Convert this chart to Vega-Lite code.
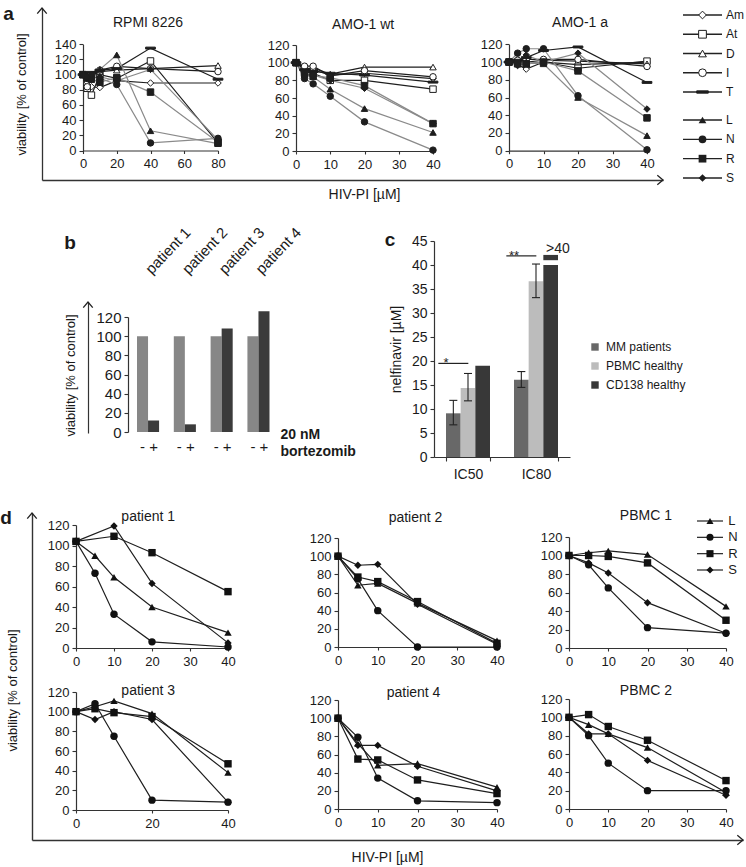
{
"$schema": "https://vega.github.io/schema/vega-lite/v6.json",
"width": 746, "height": 867,
"autosize": {"type": "none"},
"padding": 0,
"background": "white",
"config": {
  "font": "Liberation Sans",
  "view": {"stroke": null},
  "text": {"color": "#1a1a1a"},
  "axis": {"grid": false, "domainColor": "#333333", "tickColor": "#333333", "labelColor": "#1a1a1a", "titleColor": "#1a1a1a", "titleFontWeight": "normal", "labelFontSize": 13, "titleFontSize": 13, "tickSize": 4, "labelPadding": 3, "domainWidth": 1.2, "tickWidth": 1.1, "labelFlush": false, "labelOverlap": false},
  "legend": {"labelColor": "#1a1a1a"}
},
"datasets": {
  "a": [
    {"panel":"RPMI","drug":"Am","conc":0,"v":100},{"panel":"RPMI","drug":"Am","conc":2.5,"v":90},{"panel":"RPMI","drug":"Am","conc":5,"v":84},{"panel":"RPMI","drug":"Am","conc":10,"v":83},{"panel":"RPMI","drug":"Am","conc":20,"v":92},{"panel":"RPMI","drug":"Am","conc":40,"v":89},{"panel":"RPMI","drug":"Am","conc":80,"v":89},
    {"panel":"RPMI","drug":"At","conc":0,"v":100},{"panel":"RPMI","drug":"At","conc":2.5,"v":82},{"panel":"RPMI","drug":"At","conc":5,"v":73},{"panel":"RPMI","drug":"At","conc":10,"v":100},{"panel":"RPMI","drug":"At","conc":20,"v":95},{"panel":"RPMI","drug":"At","conc":40,"v":118},{"panel":"RPMI","drug":"At","conc":80,"v":10},
    {"panel":"RPMI","drug":"D","conc":0,"v":100},{"panel":"RPMI","drug":"D","conc":2.5,"v":96},{"panel":"RPMI","drug":"D","conc":5,"v":100},{"panel":"RPMI","drug":"D","conc":10,"v":104},{"panel":"RPMI","drug":"D","conc":20,"v":106},{"panel":"RPMI","drug":"D","conc":40,"v":108},{"panel":"RPMI","drug":"D","conc":80,"v":112},
    {"panel":"RPMI","drug":"I","conc":0,"v":100},{"panel":"RPMI","drug":"I","conc":2.5,"v":84},{"panel":"RPMI","drug":"I","conc":5,"v":96},{"panel":"RPMI","drug":"I","conc":10,"v":106},{"panel":"RPMI","drug":"I","conc":20,"v":111},{"panel":"RPMI","drug":"I","conc":40,"v":108},{"panel":"RPMI","drug":"I","conc":80,"v":104},
    {"panel":"RPMI","drug":"T","conc":0,"v":100},{"panel":"RPMI","drug":"T","conc":2.5,"v":98},{"panel":"RPMI","drug":"T","conc":5,"v":103},{"panel":"RPMI","drug":"T","conc":10,"v":106},{"panel":"RPMI","drug":"T","conc":20,"v":108},{"panel":"RPMI","drug":"T","conc":40,"v":135},{"panel":"RPMI","drug":"T","conc":80,"v":94},
    {"panel":"RPMI","drug":"L","conc":0,"v":100},{"panel":"RPMI","drug":"L","conc":2.5,"v":98},{"panel":"RPMI","drug":"L","conc":5,"v":100},{"panel":"RPMI","drug":"L","conc":10,"v":107},{"panel":"RPMI","drug":"L","conc":20,"v":126},{"panel":"RPMI","drug":"L","conc":40,"v":26},{"panel":"RPMI","drug":"L","conc":80,"v":9},
    {"panel":"RPMI","drug":"N","conc":0,"v":100},{"panel":"RPMI","drug":"N","conc":2.5,"v":95},{"panel":"RPMI","drug":"N","conc":5,"v":97},{"panel":"RPMI","drug":"N","conc":10,"v":95},{"panel":"RPMI","drug":"N","conc":20,"v":87},{"panel":"RPMI","drug":"N","conc":40,"v":10},{"panel":"RPMI","drug":"N","conc":80,"v":16},
    {"panel":"RPMI","drug":"R","conc":0,"v":100},{"panel":"RPMI","drug":"R","conc":2.5,"v":96},{"panel":"RPMI","drug":"R","conc":5,"v":94},{"panel":"RPMI","drug":"R","conc":10,"v":90},{"panel":"RPMI","drug":"R","conc":20,"v":96},{"panel":"RPMI","drug":"R","conc":40,"v":77},{"panel":"RPMI","drug":"R","conc":80,"v":11},
    {"panel":"RPMI","drug":"S","conc":0,"v":100},{"panel":"RPMI","drug":"S","conc":2.5,"v":97},{"panel":"RPMI","drug":"S","conc":5,"v":100},{"panel":"RPMI","drug":"S","conc":10,"v":97},{"panel":"RPMI","drug":"S","conc":20,"v":92},{"panel":"RPMI","drug":"S","conc":40,"v":107},{"panel":"RPMI","drug":"S","conc":80,"v":14},
    {"panel":"wt","drug":"Am","conc":0,"v":100},{"panel":"wt","drug":"Am","conc":2.5,"v":94},{"panel":"wt","drug":"Am","conc":5,"v":92},{"panel":"wt","drug":"Am","conc":10,"v":86},{"panel":"wt","drug":"Am","conc":20,"v":88},{"panel":"wt","drug":"Am","conc":40,"v":82},
    {"panel":"wt","drug":"At","conc":0,"v":100},{"panel":"wt","drug":"At","conc":2.5,"v":90},{"panel":"wt","drug":"At","conc":5,"v":88},{"panel":"wt","drug":"At","conc":10,"v":80},{"panel":"wt","drug":"At","conc":20,"v":80},{"panel":"wt","drug":"At","conc":40,"v":70},
    {"panel":"wt","drug":"D","conc":0,"v":100},{"panel":"wt","drug":"D","conc":2.5,"v":93},{"panel":"wt","drug":"D","conc":5,"v":94},{"panel":"wt","drug":"D","conc":10,"v":87},{"panel":"wt","drug":"D","conc":20,"v":95},{"panel":"wt","drug":"D","conc":40,"v":95},
    {"panel":"wt","drug":"I","conc":0,"v":100},{"panel":"wt","drug":"I","conc":2.5,"v":96},{"panel":"wt","drug":"I","conc":5,"v":96},{"panel":"wt","drug":"I","conc":10,"v":85},{"panel":"wt","drug":"I","conc":20,"v":91},{"panel":"wt","drug":"I","conc":40,"v":84},
    {"panel":"wt","drug":"T","conc":0,"v":100},{"panel":"wt","drug":"T","conc":2.5,"v":92},{"panel":"wt","drug":"T","conc":5,"v":90},{"panel":"wt","drug":"T","conc":10,"v":88},{"panel":"wt","drug":"T","conc":20,"v":86},{"panel":"wt","drug":"T","conc":40,"v":78},
    {"panel":"wt","drug":"L","conc":0,"v":100},{"panel":"wt","drug":"L","conc":2.5,"v":86},{"panel":"wt","drug":"L","conc":5,"v":84},{"panel":"wt","drug":"L","conc":10,"v":70},{"panel":"wt","drug":"L","conc":20,"v":48},{"panel":"wt","drug":"L","conc":40,"v":21},
    {"panel":"wt","drug":"N","conc":0,"v":100},{"panel":"wt","drug":"N","conc":2.5,"v":82},{"panel":"wt","drug":"N","conc":5,"v":76},{"panel":"wt","drug":"N","conc":10,"v":62},{"panel":"wt","drug":"N","conc":20,"v":33},{"panel":"wt","drug":"N","conc":40,"v":1},
    {"panel":"wt","drug":"R","conc":0,"v":100},{"panel":"wt","drug":"R","conc":2.5,"v":88},{"panel":"wt","drug":"R","conc":5,"v":85},{"panel":"wt","drug":"R","conc":10,"v":83},{"panel":"wt","drug":"R","conc":20,"v":74},{"panel":"wt","drug":"R","conc":40,"v":31},
    {"panel":"wt","drug":"S","conc":0,"v":100},{"panel":"wt","drug":"S","conc":2.5,"v":85},{"panel":"wt","drug":"S","conc":5,"v":86},{"panel":"wt","drug":"S","conc":10,"v":80},{"panel":"wt","drug":"S","conc":20,"v":71},{"panel":"wt","drug":"S","conc":40,"v":31},
    {"panel":"a1","drug":"Am","conc":0,"v":100},{"panel":"a1","drug":"Am","conc":2.5,"v":97},{"panel":"a1","drug":"Am","conc":5,"v":92},{"panel":"a1","drug":"Am","conc":10,"v":100},{"panel":"a1","drug":"Am","conc":20,"v":97},{"panel":"a1","drug":"Am","conc":40,"v":100},
    {"panel":"a1","drug":"At","conc":0,"v":100},{"panel":"a1","drug":"At","conc":2.5,"v":100},{"panel":"a1","drug":"At","conc":5,"v":98},{"panel":"a1","drug":"At","conc":10,"v":100},{"panel":"a1","drug":"At","conc":20,"v":93},{"panel":"a1","drug":"At","conc":40,"v":101},
    {"panel":"a1","drug":"D","conc":0,"v":100},{"panel":"a1","drug":"D","conc":2.5,"v":100},{"panel":"a1","drug":"D","conc":5,"v":100},{"panel":"a1","drug":"D","conc":10,"v":102},{"panel":"a1","drug":"D","conc":20,"v":101},{"panel":"a1","drug":"D","conc":40,"v":98},
    {"panel":"a1","drug":"I","conc":0,"v":100},{"panel":"a1","drug":"I","conc":2.5,"v":102},{"panel":"a1","drug":"I","conc":5,"v":103},{"panel":"a1","drug":"I","conc":10,"v":103},{"panel":"a1","drug":"I","conc":20,"v":103},{"panel":"a1","drug":"I","conc":40,"v":95},
    {"panel":"a1","drug":"T","conc":0,"v":100},{"panel":"a1","drug":"T","conc":2.5,"v":102},{"panel":"a1","drug":"T","conc":5,"v":105},{"panel":"a1","drug":"T","conc":10,"v":113},{"panel":"a1","drug":"T","conc":20,"v":117},{"panel":"a1","drug":"T","conc":40,"v":77},
    {"panel":"a1","drug":"L","conc":0,"v":100},{"panel":"a1","drug":"L","conc":2.5,"v":98},{"panel":"a1","drug":"L","conc":5,"v":100},{"panel":"a1","drug":"L","conc":10,"v":98},{"panel":"a1","drug":"L","conc":20,"v":60},{"panel":"a1","drug":"L","conc":40,"v":17},
    {"panel":"a1","drug":"N","conc":0,"v":100},{"panel":"a1","drug":"N","conc":2.5,"v":110},{"panel":"a1","drug":"N","conc":5,"v":115},{"panel":"a1","drug":"N","conc":10,"v":115},{"panel":"a1","drug":"N","conc":20,"v":62},{"panel":"a1","drug":"N","conc":40,"v":1},
    {"panel":"a1","drug":"R","conc":0,"v":100},{"panel":"a1","drug":"R","conc":2.5,"v":98},{"panel":"a1","drug":"R","conc":5,"v":98},{"panel":"a1","drug":"R","conc":10,"v":100},{"panel":"a1","drug":"R","conc":20,"v":90},{"panel":"a1","drug":"R","conc":40,"v":37},
    {"panel":"a1","drug":"S","conc":0,"v":100},{"panel":"a1","drug":"S","conc":2.5,"v":96},{"panel":"a1","drug":"S","conc":5,"v":108},{"panel":"a1","drug":"S","conc":10,"v":100},{"panel":"a1","drug":"S","conc":20,"v":110},{"panel":"a1","drug":"S","conc":40,"v":47}
  ],
  "d": [
    {"panel":"p1","drug":"L","conc":0,"v":104},{"panel":"p1","drug":"L","conc":5,"v":90},{"panel":"p1","drug":"L","conc":10,"v":69},{"panel":"p1","drug":"L","conc":20,"v":40},{"panel":"p1","drug":"L","conc":40,"v":15},
    {"panel":"p1","drug":"N","conc":0,"v":104},{"panel":"p1","drug":"N","conc":5,"v":73},{"panel":"p1","drug":"N","conc":10,"v":33},{"panel":"p1","drug":"N","conc":20,"v":6},{"panel":"p1","drug":"N","conc":40,"v":1},
    {"panel":"p1","drug":"R","conc":0,"v":104},{"panel":"p1","drug":"R","conc":10,"v":109},{"panel":"p1","drug":"R","conc":20,"v":93},{"panel":"p1","drug":"R","conc":40,"v":55},
    {"panel":"p1","drug":"S","conc":0,"v":104},{"panel":"p1","drug":"S","conc":10,"v":119},{"panel":"p1","drug":"S","conc":20,"v":63},{"panel":"p1","drug":"S","conc":40,"v":5},
    {"panel":"p2","drug":"L","conc":0,"v":100},{"panel":"p2","drug":"L","conc":5,"v":68},{"panel":"p2","drug":"L","conc":10,"v":70},{"panel":"p2","drug":"L","conc":20,"v":48},{"panel":"p2","drug":"L","conc":40,"v":7},
    {"panel":"p2","drug":"N","conc":0,"v":100},{"panel":"p2","drug":"N","conc":5,"v":75},{"panel":"p2","drug":"N","conc":10,"v":40},{"panel":"p2","drug":"N","conc":20,"v":0},{"panel":"p2","drug":"N","conc":40,"v":0},
    {"panel":"p2","drug":"R","conc":0,"v":100},{"panel":"p2","drug":"R","conc":5,"v":77},{"panel":"p2","drug":"R","conc":10,"v":72},{"panel":"p2","drug":"R","conc":20,"v":50},{"panel":"p2","drug":"R","conc":40,"v":4},
    {"panel":"p2","drug":"S","conc":0,"v":100},{"panel":"p2","drug":"S","conc":5,"v":90},{"panel":"p2","drug":"S","conc":10,"v":91},{"panel":"p2","drug":"S","conc":20,"v":47},{"panel":"p2","drug":"S","conc":40,"v":3},
    {"panel":"pb1","drug":"L","conc":0,"v":100},{"panel":"pb1","drug":"L","conc":5,"v":103},{"panel":"pb1","drug":"L","conc":10,"v":105},{"panel":"pb1","drug":"L","conc":20,"v":101},{"panel":"pb1","drug":"L","conc":40,"v":45},
    {"panel":"pb1","drug":"N","conc":0,"v":100},{"panel":"pb1","drug":"N","conc":5,"v":90},{"panel":"pb1","drug":"N","conc":10,"v":65},{"panel":"pb1","drug":"N","conc":20,"v":22},{"panel":"pb1","drug":"N","conc":40,"v":16},
    {"panel":"pb1","drug":"R","conc":0,"v":100},{"panel":"pb1","drug":"R","conc":5,"v":100},{"panel":"pb1","drug":"R","conc":10,"v":99},{"panel":"pb1","drug":"R","conc":20,"v":92},{"panel":"pb1","drug":"R","conc":40,"v":30},
    {"panel":"pb1","drug":"S","conc":0,"v":100},{"panel":"pb1","drug":"S","conc":5,"v":92},{"panel":"pb1","drug":"S","conc":10,"v":81},{"panel":"pb1","drug":"S","conc":20,"v":49},{"panel":"pb1","drug":"S","conc":40,"v":16},
    {"panel":"p3","drug":"L","conc":0,"v":100},{"panel":"p3","drug":"L","conc":5,"v":105},{"panel":"p3","drug":"L","conc":10,"v":111},{"panel":"p3","drug":"L","conc":20,"v":98},{"panel":"p3","drug":"L","conc":40,"v":38},
    {"panel":"p3","drug":"N","conc":0,"v":100},{"panel":"p3","drug":"N","conc":5,"v":108},{"panel":"p3","drug":"N","conc":10,"v":75},{"panel":"p3","drug":"N","conc":20,"v":10},{"panel":"p3","drug":"N","conc":40,"v":8},
    {"panel":"p3","drug":"R","conc":0,"v":100},{"panel":"p3","drug":"R","conc":5,"v":103},{"panel":"p3","drug":"R","conc":10,"v":99},{"panel":"p3","drug":"R","conc":20,"v":95},{"panel":"p3","drug":"R","conc":40,"v":47},
    {"panel":"p3","drug":"S","conc":0,"v":100},{"panel":"p3","drug":"S","conc":5,"v":92},{"panel":"p3","drug":"S","conc":10,"v":100},{"panel":"p3","drug":"S","conc":20,"v":92},{"panel":"p3","drug":"S","conc":40,"v":8},
    {"panel":"p4","drug":"L","conc":0,"v":100},{"panel":"p4","drug":"L","conc":5,"v":72},{"panel":"p4","drug":"L","conc":10,"v":48},{"panel":"p4","drug":"L","conc":20,"v":50},{"panel":"p4","drug":"L","conc":40,"v":24},
    {"panel":"p4","drug":"N","conc":0,"v":100},{"panel":"p4","drug":"N","conc":5,"v":79},{"panel":"p4","drug":"N","conc":10,"v":34},{"panel":"p4","drug":"N","conc":20,"v":9},{"panel":"p4","drug":"N","conc":40,"v":7},
    {"panel":"p4","drug":"R","conc":0,"v":100},{"panel":"p4","drug":"R","conc":5,"v":55},{"panel":"p4","drug":"R","conc":10,"v":54},{"panel":"p4","drug":"R","conc":20,"v":32},{"panel":"p4","drug":"R","conc":40,"v":17},
    {"panel":"p4","drug":"S","conc":0,"v":100},{"panel":"p4","drug":"S","conc":5,"v":70},{"panel":"p4","drug":"S","conc":10,"v":70},{"panel":"p4","drug":"S","conc":20,"v":47},{"panel":"p4","drug":"S","conc":40,"v":20},
    {"panel":"pb2","drug":"L","conc":0,"v":100},{"panel":"pb2","drug":"L","conc":5,"v":92},{"panel":"pb2","drug":"L","conc":10,"v":82},{"panel":"pb2","drug":"L","conc":20,"v":67},{"panel":"pb2","drug":"L","conc":40,"v":18},
    {"panel":"pb2","drug":"N","conc":0,"v":100},{"panel":"pb2","drug":"N","conc":5,"v":80},{"panel":"pb2","drug":"N","conc":10,"v":50},{"panel":"pb2","drug":"N","conc":20,"v":20},{"panel":"pb2","drug":"N","conc":40,"v":20},
    {"panel":"pb2","drug":"R","conc":0,"v":100},{"panel":"pb2","drug":"R","conc":5,"v":103},{"panel":"pb2","drug":"R","conc":10,"v":90},{"panel":"pb2","drug":"R","conc":20,"v":75},{"panel":"pb2","drug":"R","conc":40,"v":31},
    {"panel":"pb2","drug":"S","conc":0,"v":100},{"panel":"pb2","drug":"S","conc":5,"v":82},{"panel":"pb2","drug":"S","conc":10,"v":82},{"panel":"pb2","drug":"S","conc":20,"v":53},{"panel":"pb2","drug":"S","conc":40,"v":15}
  ],
  "b": [
    {"patient":"patient 1","treatment":"-","v":100},{"patient":"patient 1","treatment":"+","v":12},
    {"patient":"patient 2","treatment":"-","v":100},{"patient":"patient 2","treatment":"+","v":8},
    {"patient":"patient 3","treatment":"-","v":100},{"patient":"patient 3","treatment":"+","v":108},
    {"patient":"patient 4","treatment":"-","v":100},{"patient":"patient 4","treatment":"+","v":126}
  ],
  "c": [
    {"stat":"IC50","group":"MM patients","v":9.1,"lo":6.7,"hi":11.8},
    {"stat":"IC50","group":"PBMC healthy","v":14.4,"lo":11.7,"hi":17.4},
    {"stat":"IC50","group":"CD138 healthy","v":19},
    {"stat":"IC80","group":"MM patients","v":16.1,"lo":14.5,"hi":17.8},
    {"stat":"IC80","group":"PBMC healthy","v":36.6,"lo":33.2,"hi":40.2},
    {"stat":"IC80","group":"CD138 healthy","v":40}
  ],
  "cann": [
    {"stat":"IC50","group":"MM patients","kind":"sig","level":19.5,"label":"*"},
    {"stat":"IC80","group":"MM patients","kind":"sig","level":41.9,"label":"**"},
    {"stat":"IC80","group":"CD138 healthy","kind":"gt","level":41,"level2":42.1,"label":">40"}
  ],
  "lega1": [{"drug":"Am"},{"drug":"At"},{"drug":"D"},{"drug":"I"},{"drug":"T"}],
  "lega2": [{"drug":"L"},{"drug":"N"},{"drug":"R"},{"drug":"S"}]
},
"layer": [
  {"data": {"values": [{"label": "a"}]},
   "mark": {"type": "point", "shape": "M-1,1.2L0,0L1,1.2", "size": 90, "filled": false, "strokeWidth": 1.3, "color": "#222222", "opacity": 1},
   "encoding": {
     "x": {"datum": 0, "type": "quantitative", "scale": {"domain": [0, 1], "range": [42, 663], "nice": false, "zero": false}, "axis": {"orient": "bottom", "offset": -687, "ticks": false, "labels": false, "title": "HIV-PI [µM]", "titleFontSize": 14, "titlePadding": 7, "titleX": 364, "domainWidth": 1.3}},
     "y": {"datum": 1, "type": "quantitative", "scale": {"domain": [0, 1], "range": [180, 8], "nice": false, "zero": false}, "axis": {"orient": "left", "offset": -42, "ticks": false, "labels": false, "title": "viability [% of control]", "titleFontSize": 13, "titlePadding": 14, "domainWidth": 1.3}}
   }},
  {"data": {"values": [{"label": "a"}]},
   "mark": {"type": "point", "shape": "M-1.2,-1L0,0L-1.2,1", "size": 90, "filled": false, "strokeWidth": 1.3, "color": "#222222", "opacity": 1},
   "encoding": {
     "x": {"datum": 1, "type": "quantitative", "scale": {"domain": [0, 1], "range": [42, 663], "nice": false, "zero": false}, "axis": null},
     "y": {"datum": 0, "type": "quantitative", "scale": {"domain": [0, 1], "range": [180, 8], "nice": false, "zero": false}, "axis": null}
   }},
  {"data": {"values": [{"label": "a"}]},
   "mark": {"type": "text", "fontSize": 19, "fontWeight": "bold", "baseline": "middle"},
   "encoding": {
     "text": {"field": "label"},
     "x": {"datum": -0.054, "type": "quantitative", "scale": {"domain": [0, 1], "range": [42, 663], "nice": false, "zero": false}, "axis": null},
     "y": {"datum": 0.968, "type": "quantitative", "scale": {"domain": [0, 1], "range": [180, 8], "nice": false, "zero": false}, "axis": null}
   }},

  {"data": {"name": "a"}, "transform": [{"filter": "datum.panel === 'RPMI'"}],
   "mark": {"type": "line", "strokeWidth": 1.2},
   "encoding": {
     "x": {"field": "conc", "type": "quantitative", "scale": {"domain": [0, 80], "range": [83, 218], "nice": false, "zero": false}, "axis": {"orient": "bottom", "offset": -716.5, "values": [0, 20, 40, 60, 80], "title": null, "tickSize": 3, "labelPadding": 4}},
     "y": {"field": "v", "type": "quantitative", "scale": {"domain": [0, 140], "range": [150.5, 44.3], "nice": false, "zero": false}, "axis": {"orient": "left", "offset": -83, "values": [0, 20, 40, 60, 80, 100, 120, 140], "title": null}},
     "detail": {"field": "drug", "type": "nominal"},
     "stroke": {"condition": {"test": "indexof(['L','N','R','S'], datum.drug) >= 0", "value": "#8a8a8a"}, "value": "#1e1e1e"}}},
  {"data": {"name": "a"}, "transform": [{"filter": "datum.panel === 'RPMI'"}],
   "mark": {"type": "point", "filled": true, "size": 42, "stroke": "#1e1e1e", "strokeWidth": 1, "opacity": 1},
   "encoding": {
     "x": {"field": "conc", "type": "quantitative", "scale": {"domain": [0, 80], "range": [83, 218], "nice": false, "zero": false}, "axis": null},
     "y": {"field": "v", "type": "quantitative", "scale": {"domain": [0, 140], "range": [150.5, 44.3], "nice": false, "zero": false}, "axis": null},
     "shape": {"field": "drug", "type": "nominal", "scale": {"domain": ["Am","At","D","I","T","L","N","R","S"], "range": ["diamond","square","triangle-up","circle","M-1.5,-0.3L1.5,-0.3L1.5,0.3L-1.5,0.3Z","triangle-up","circle","square","diamond"]}, "legend": null},
     "fill": {"field": "drug", "type": "nominal", "scale": {"domain": ["Am","At","D","I","T","L","N","R","S"], "range": ["white","white","white","white","#1e1e1e","#1e1e1e","#1e1e1e","#1e1e1e","#1e1e1e"]}, "legend": null}
   }},
  {"data": {"values": [{"t": "RPMI 8226"}]},
   "mark": {"type": "text", "fontSize": 14, "baseline": "middle"},
   "encoding": {
     "text": {"field": "t"},
     "x": {"datum": 38.5, "type": "quantitative", "scale": {"domain": [0, 80], "range": [83, 218], "nice": false, "zero": false}, "axis": null},
     "y": {"datum": 168, "type": "quantitative", "scale": {"domain": [0, 140], "range": [150.5, 44.3], "nice": false, "zero": false}, "axis": null}
   }},

  {"data": {"name": "a"}, "transform": [{"filter": "datum.panel === 'wt'"}],
   "mark": {"type": "line", "strokeWidth": 1.2},
   "encoding": {
     "x": {"field": "conc", "type": "quantitative", "scale": {"domain": [0, 40], "range": [296, 433], "nice": false, "zero": false}, "axis": {"orient": "bottom", "offset": -716, "values": [0, 10, 20, 30, 40], "title": null, "tickSize": 3, "labelPadding": 4}},
     "y": {"field": "v", "type": "quantitative", "scale": {"domain": [0, 120], "range": [151, 45], "nice": false, "zero": false}, "axis": {"orient": "left", "offset": -296, "values": [0, 20, 40, 60, 80, 100, 120], "title": null}},
     "detail": {"field": "drug", "type": "nominal"},
     "stroke": {"condition": {"test": "indexof(['L','N','R','S'], datum.drug) >= 0", "value": "#8a8a8a"}, "value": "#1e1e1e"}}},
  {"data": {"name": "a"}, "transform": [{"filter": "datum.panel === 'wt'"}],
   "mark": {"type": "point", "filled": true, "size": 42, "stroke": "#1e1e1e", "strokeWidth": 1, "opacity": 1},
   "encoding": {
     "x": {"field": "conc", "type": "quantitative", "scale": {"domain": [0, 40], "range": [296, 433], "nice": false, "zero": false}, "axis": null},
     "y": {"field": "v", "type": "quantitative", "scale": {"domain": [0, 120], "range": [151, 45], "nice": false, "zero": false}, "axis": null},
     "shape": {"field": "drug", "type": "nominal", "scale": {"domain": ["Am","At","D","I","T","L","N","R","S"], "range": ["diamond","square","triangle-up","circle","M-1.5,-0.3L1.5,-0.3L1.5,0.3L-1.5,0.3Z","triangle-up","circle","square","diamond"]}, "legend": null},
     "fill": {"field": "drug", "type": "nominal", "scale": {"domain": ["Am","At","D","I","T","L","N","R","S"], "range": ["white","white","white","white","#1e1e1e","#1e1e1e","#1e1e1e","#1e1e1e","#1e1e1e"]}, "legend": null}
   }},
  {"data": {"values": [{"t": "AMO-1 wt"}]},
   "mark": {"type": "text", "fontSize": 14, "baseline": "middle"},
   "encoding": {
     "text": {"field": "t"},
     "x": {"datum": 19.6, "type": "quantitative", "scale": {"domain": [0, 40], "range": [296, 433], "nice": false, "zero": false}, "axis": null},
     "y": {"datum": 142.6, "type": "quantitative", "scale": {"domain": [0, 120], "range": [151, 45], "nice": false, "zero": false}, "axis": null}
   }},

  {"data": {"name": "a"}, "transform": [{"filter": "datum.panel === 'a1'"}],
   "mark": {"type": "line", "strokeWidth": 1.2},
   "encoding": {
     "x": {"field": "conc", "type": "quantitative", "scale": {"domain": [0, 40], "range": [509, 647], "nice": false, "zero": false}, "axis": {"orient": "bottom", "offset": -716.3, "values": [0, 10, 20, 30, 40], "title": null, "tickSize": 3, "labelPadding": 4}},
     "y": {"field": "v", "type": "quantitative", "scale": {"domain": [0, 120], "range": [150.7, 44.3], "nice": false, "zero": false}, "axis": {"orient": "left", "offset": -509, "values": [0, 20, 40, 60, 80, 100, 120], "title": null}},
     "detail": {"field": "drug", "type": "nominal"},
     "stroke": {"condition": {"test": "indexof(['L','N','R','S'], datum.drug) >= 0", "value": "#8a8a8a"}, "value": "#1e1e1e"}}},
  {"data": {"name": "a"}, "transform": [{"filter": "datum.panel === 'a1'"}],
   "mark": {"type": "point", "filled": true, "size": 42, "stroke": "#1e1e1e", "strokeWidth": 1, "opacity": 1},
   "encoding": {
     "x": {"field": "conc", "type": "quantitative", "scale": {"domain": [0, 40], "range": [509, 647], "nice": false, "zero": false}, "axis": null},
     "y": {"field": "v", "type": "quantitative", "scale": {"domain": [0, 120], "range": [150.7, 44.3], "nice": false, "zero": false}, "axis": null},
     "shape": {"field": "drug", "type": "nominal", "scale": {"domain": ["Am","At","D","I","T","L","N","R","S"], "range": ["diamond","square","triangle-up","circle","M-1.5,-0.3L1.5,-0.3L1.5,0.3L-1.5,0.3Z","triangle-up","circle","square","diamond"]}, "legend": null},
     "fill": {"field": "drug", "type": "nominal", "scale": {"domain": ["Am","At","D","I","T","L","N","R","S"], "range": ["white","white","white","white","#1e1e1e","#1e1e1e","#1e1e1e","#1e1e1e","#1e1e1e"]}, "legend": null}
   }},
  {"data": {"values": [{"t": "AMO-1 a"}]},
   "mark": {"type": "text", "fontSize": 14, "baseline": "middle"},
   "encoding": {
     "text": {"field": "t"},
     "x": {"datum": 20.6, "type": "quantitative", "scale": {"domain": [0, 40], "range": [509, 647], "nice": false, "zero": false}, "axis": null},
     "y": {"datum": 144, "type": "quantitative", "scale": {"domain": [0, 120], "range": [150.7, 44.3], "nice": false, "zero": false}, "axis": null}
   }},

  {"data": {"name": "lega1"},
   "mark": {"type": "rule", "color": "#222222", "strokeWidth": 1.3},
   "encoding": {
     "x": {"datum": 0, "type": "quantitative", "scale": {"domain": [0, 1], "range": [683, 722], "nice": false, "zero": false}, "axis": null},
     "x2": {"datum": 1},
     "y": {"field": "drug", "type": "nominal", "scale": {"type": "point", "domain": ["Am","At","D","I","T"], "range": [15, 92], "padding": 0}, "axis": null}
   }},
  {"data": {"name": "lega1"},
   "mark": {"type": "point", "filled": true, "size": 60, "stroke": "#1e1e1e", "strokeWidth": 1, "opacity": 1},
   "encoding": {
     "x": {"datum": 0.5, "type": "quantitative", "scale": {"domain": [0, 1], "range": [683, 722], "nice": false, "zero": false}, "axis": null},
     "y": {"field": "drug", "type": "nominal", "scale": {"type": "point", "domain": ["Am","At","D","I","T"], "range": [15, 92], "padding": 0}, "axis": null},
     "shape": {"field": "drug", "type": "nominal", "scale": {"domain": ["Am","At","D","I","T"], "range": ["diamond","square","triangle-up","circle","M-1.5,-0.3L1.5,-0.3L1.5,0.3L-1.5,0.3Z"]}, "legend": null},
     "fill": {"field": "drug", "type": "nominal", "scale": {"domain": ["Am","At","D","I","T"], "range": ["white","white","white","white","#1e1e1e"]}, "legend": null}
   }},
  {"data": {"name": "lega1"},
   "mark": {"type": "text", "align": "left", "baseline": "middle", "fontSize": 12},
   "encoding": {
     "x": {"datum": 1.1, "type": "quantitative", "scale": {"domain": [0, 1], "range": [683, 722], "nice": false, "zero": false}, "axis": null},
     "y": {"field": "drug", "type": "nominal", "scale": {"type": "point", "domain": ["Am","At","D","I","T"], "range": [15, 92], "padding": 0}, "axis": null},
     "text": {"field": "drug"}
   }},
  {"data": {"name": "lega2"},
   "mark": {"type": "rule", "color": "#222222", "strokeWidth": 1.3},
   "encoding": {
     "x": {"datum": 0, "type": "quantitative", "scale": {"domain": [0, 1], "range": [683, 722], "nice": false, "zero": false}, "axis": null},
     "x2": {"datum": 1},
     "y": {"field": "drug", "type": "nominal", "scale": {"type": "point", "domain": ["L","N","R","S"], "range": [120, 178], "padding": 0}, "axis": null}
   }},
  {"data": {"name": "lega2"},
   "mark": {"type": "point", "filled": true, "size": 60, "color": "#1e1e1e", "opacity": 1},
   "encoding": {
     "x": {"datum": 0.5, "type": "quantitative", "scale": {"domain": [0, 1], "range": [683, 722], "nice": false, "zero": false}, "axis": null},
     "y": {"field": "drug", "type": "nominal", "scale": {"type": "point", "domain": ["L","N","R","S"], "range": [120, 178], "padding": 0}, "axis": null},
     "shape": {"field": "drug", "type": "nominal", "scale": {"domain": ["L","N","R","S"], "range": ["triangle-up","circle","square","diamond"]}, "legend": null}
   }},
  {"data": {"name": "lega2"},
   "mark": {"type": "text", "align": "left", "baseline": "middle", "fontSize": 12},
   "encoding": {
     "x": {"datum": 1.1, "type": "quantitative", "scale": {"domain": [0, 1], "range": [683, 722], "nice": false, "zero": false}, "axis": null},
     "y": {"field": "drug", "type": "nominal", "scale": {"type": "point", "domain": ["L","N","R","S"], "range": [120, 178], "padding": 0}, "axis": null},
     "text": {"field": "drug"}
   }},

  {"data": {"values": [{"label": "b"}]},
   "mark": {"type": "point", "shape": "M-1,1.2L0,0L1,1.2", "size": 90, "filled": false, "strokeWidth": 1.3, "color": "#222222", "opacity": 1},
   "encoding": {
     "x": {"datum": 0, "type": "quantitative", "scale": {"domain": [0, 1], "range": [88, 300], "nice": false, "zero": false}, "axis": null},
     "y": {"datum": 1, "type": "quantitative", "scale": {"domain": [0, 1], "range": [433, 302], "nice": false, "zero": false}, "axis": {"orient": "left", "offset": -88, "ticks": false, "labels": false, "title": "viability [% of control]", "titleFontSize": 13, "titlePadding": 11, "titleY": 375, "domainWidth": 1.2}}
   }},
  {"data": {"values": [{"label": "b"}]},
   "mark": {"type": "text", "fontSize": 19, "fontWeight": "bold", "baseline": "middle"},
   "encoding": {
     "text": {"field": "label"},
     "x": {"datum": -0.085, "type": "quantitative", "scale": {"domain": [0, 1], "range": [88, 300], "nice": false, "zero": false}, "axis": null},
     "y": {"datum": 1.45, "type": "quantitative", "scale": {"domain": [0, 1], "range": [433, 302], "nice": false, "zero": false}, "axis": null}
   }},

  {"data": {"name": "b"},
   "mark": {"type": "bar"},
   "encoding": {
     "x": {"field": "patient", "type": "nominal", "scale": {"type": "band", "domain": ["patient 1","patient 2","patient 3","patient 4"], "range": [127.8, 278.7], "paddingInner": 0.4, "paddingOuter": 0.25}, "axis": {"orient": "top", "offset": -273, "domain": false, "ticks": false, "labelAngle": -46, "labelAlign": "left", "labelBaseline": "middle", "labelFontSize": 15, "labelPadding": 2, "title": null}},
     "xOffset": {"field": "treatment", "type": "nominal", "scale": {"domain": ["-","+"], "paddingInner": 0, "paddingOuter": 0}},
     "y": {"field": "v", "type": "quantitative", "scale": {"domain": [0, 120], "range": [432, 317], "nice": false, "zero": false}, "axis": {"orient": "left", "offset": -128, "values": [0, 20, 40, 60, 80, 100, 120], "title": null, "labelFontSize": 15}},
     "color": {"field": "treatment", "type": "nominal", "scale": {"domain": ["-","+"], "range": ["#878787","#3b3b3b"]}, "legend": null}
   }},
  {"data": {"name": "b"}, "transform": [{"filter": "datum.treatment === '-'"}],
   "mark": {"type": "text", "fontSize": 15, "baseline": "middle", "dx": -5.5, "color": "#1a1a1a"},
   "encoding": {
     "x": {"field": "patient", "type": "nominal", "scale": {"type": "band", "domain": ["patient 1","patient 2","patient 3","patient 4"], "range": [127.8, 278.7], "paddingInner": 0.4, "paddingOuter": 0.25}, "axis": null},
     "y": {"datum": -16, "type": "quantitative", "scale": {"domain": [0, 120], "range": [432, 317], "nice": false, "zero": false}, "axis": null},
     "text": {"field": "treatment"}
   }},
  {"data": {"name": "b"}, "transform": [{"filter": "datum.treatment === '+'"}],
   "mark": {"type": "text", "fontSize": 15, "baseline": "middle", "dx": 5.5, "color": "#1a1a1a"},
   "encoding": {
     "x": {"field": "patient", "type": "nominal", "scale": {"type": "band", "domain": ["patient 1","patient 2","patient 3","patient 4"], "range": [127.8, 278.7], "paddingInner": 0.4, "paddingOuter": 0.25}, "axis": null},
     "y": {"datum": -16, "type": "quantitative", "scale": {"domain": [0, 120], "range": [432, 317], "nice": false, "zero": false}, "axis": null},
     "text": {"field": "treatment"}
   }},
  {"data": {"values": [{"t": "20 nM\nbortezomib"}]},
   "mark": {"type": "text", "align": "left", "baseline": "top", "dx": 22, "fontSize": 14, "fontWeight": "bold", "lineBreak": "\n", "lineHeight": 17, "color": "#1a1a1a"},
   "encoding": {
     "x": {"datum": "patient 4", "type": "nominal", "scale": {"type": "band", "domain": ["patient 1","patient 2","patient 3","patient 4"], "range": [127.8, 278.7], "paddingInner": 0.4, "paddingOuter": 0.25}, "axis": null},
     "y": {"datum": 4, "type": "quantitative", "scale": {"domain": [0, 120], "range": [432, 317], "nice": false, "zero": false}, "axis": null},
     "text": {"field": "t"}
   }},

  {"data": {"name": "c"},
   "mark": {"type": "bar"},
   "encoding": {
     "x": {"field": "stat", "type": "nominal", "scale": {"type": "band", "domain": ["IC50","IC80"], "range": [434, 570], "paddingInner": 0.353, "paddingOuter": 0.1765}, "axis": {"orient": "bottom", "offset": -410, "tickBand": "extent", "title": null, "labelAngle": 0, "labelFontSize": 14, "labelPadding": 6}},
     "xOffset": {"field": "group", "type": "nominal", "scale": {"domain": ["MM patients","PBMC healthy","CD138 healthy"], "paddingInner": 0, "paddingOuter": 0}},
     "y": {"field": "v", "type": "quantitative", "scale": {"domain": [0, 45], "range": [457, 241], "nice": false, "zero": false}, "axis": {"orient": "left", "offset": -434, "values": [0,5,10,15,20,25,30,35,40,45], "title": "nelfinavir [µM]", "titleFontSize": 14, "titlePadding": 8, "labelFontSize": 14}},
     "color": {"field": "group", "type": "nominal", "scale": {"domain": ["MM patients","PBMC healthy","CD138 healthy"], "range": ["#686868","#bcbcbc","#383838"]}, "legend": {"orient": "none", "legendX": 589, "legendY": 341, "title": null, "symbolType": "square", "symbolSize": 55, "symbolStrokeWidth": 0, "labelFontSize": 12, "rowPadding": 7, "labelOffset": 5}}
   }},
  {"data": {"name": "c"}, "transform": [{"filter": "isValid(datum.lo)"}],
   "mark": {"type": "rule", "color": "#222222", "strokeWidth": 1.1},
   "encoding": {
     "x": {"field": "stat", "type": "nominal", "scale": {"type": "band", "domain": ["IC50","IC80"], "range": [434, 570], "paddingInner": 0.353, "paddingOuter": 0.1765}, "axis": null},
     "xOffset": {"field": "group", "type": "nominal", "scale": {"domain": ["MM patients","PBMC healthy","CD138 healthy"], "paddingInner": 0, "paddingOuter": 0}},
     "y": {"field": "lo", "type": "quantitative", "scale": {"domain": [0, 45], "range": [457, 241], "nice": false, "zero": false}, "axis": null},
     "y2": {"field": "hi"}
   }},
  {"data": {"name": "c"}, "transform": [{"filter": "isValid(datum.lo)"}],
   "mark": {"type": "tick", "orient": "horizontal", "size": 8, "thickness": 1.1, "color": "#222222", "opacity": 1},
   "encoding": {
     "x": {"field": "stat", "type": "nominal", "scale": {"type": "band", "domain": ["IC50","IC80"], "range": [434, 570], "paddingInner": 0.353, "paddingOuter": 0.1765}, "axis": null},
     "xOffset": {"field": "group", "type": "nominal", "scale": {"domain": ["MM patients","PBMC healthy","CD138 healthy"], "paddingInner": 0, "paddingOuter": 0}},
     "y": {"field": "lo", "type": "quantitative", "scale": {"domain": [0, 45], "range": [457, 241], "nice": false, "zero": false}, "axis": null}
   }},
  {"data": {"name": "c"}, "transform": [{"filter": "isValid(datum.lo)"}],
   "mark": {"type": "tick", "orient": "horizontal", "size": 8, "thickness": 1.1, "color": "#222222", "opacity": 1},
   "encoding": {
     "x": {"field": "stat", "type": "nominal", "scale": {"type": "band", "domain": ["IC50","IC80"], "range": [434, 570], "paddingInner": 0.353, "paddingOuter": 0.1765}, "axis": null},
     "xOffset": {"field": "group", "type": "nominal", "scale": {"domain": ["MM patients","PBMC healthy","CD138 healthy"], "paddingInner": 0, "paddingOuter": 0}},
     "y": {"field": "hi", "type": "quantitative", "scale": {"domain": [0, 45], "range": [457, 241], "nice": false, "zero": false}, "axis": null}
   }},
  {"data": {"name": "cann"}, "transform": [{"filter": "datum.kind === 'sig'"}],
   "mark": {"type": "tick", "orient": "horizontal", "size": 30, "thickness": 1.2, "color": "#222222", "opacity": 1},
   "encoding": {
     "x": {"field": "stat", "type": "nominal", "scale": {"type": "band", "domain": ["IC50","IC80"], "range": [434, 570], "paddingInner": 0.353, "paddingOuter": 0.1765}, "axis": null},
     "xOffset": {"field": "group", "type": "nominal", "scale": {"domain": ["MM patients","PBMC healthy","CD138 healthy"], "paddingInner": 0, "paddingOuter": 0}},
     "y": {"field": "level", "type": "quantitative", "scale": {"domain": [0, 45], "range": [457, 241], "nice": false, "zero": false}, "axis": null}
   }},
  {"data": {"name": "cann"}, "transform": [{"filter": "datum.kind === 'sig'"}],
   "mark": {"type": "text", "fontSize": 13, "baseline": "alphabetic", "dy": 4, "color": "#222222"},
   "encoding": {
     "x": {"field": "stat", "type": "nominal", "scale": {"type": "band", "domain": ["IC50","IC80"], "range": [434, 570], "paddingInner": 0.353, "paddingOuter": 0.1765}, "axis": null},
     "xOffset": {"field": "group", "type": "nominal", "scale": {"domain": ["MM patients","PBMC healthy","CD138 healthy"], "paddingInner": 0, "paddingOuter": 0}},
     "y": {"field": "level", "type": "quantitative", "scale": {"domain": [0, 45], "range": [457, 241], "nice": false, "zero": false}, "axis": null},
     "text": {"field": "label"}
   }},
  {"data": {"name": "cann"}, "transform": [{"filter": "datum.kind === 'gt'"}],
   "mark": {"type": "bar", "color": "#383838"},
   "encoding": {
     "x": {"field": "stat", "type": "nominal", "scale": {"type": "band", "domain": ["IC50","IC80"], "range": [434, 570], "paddingInner": 0.353, "paddingOuter": 0.1765}, "axis": null},
     "xOffset": {"field": "group", "type": "nominal", "scale": {"domain": ["MM patients","PBMC healthy","CD138 healthy"], "paddingInner": 0, "paddingOuter": 0}},
     "y": {"field": "level", "type": "quantitative", "scale": {"domain": [0, 45], "range": [457, 241], "nice": false, "zero": false}, "axis": null},
     "y2": {"field": "level2"}
   }},
  {"data": {"name": "cann"}, "transform": [{"filter": "datum.kind === 'gt'"}],
   "mark": {"type": "text", "fontSize": 14, "baseline": "alphabetic", "dy": -2, "color": "#222222"},
   "encoding": {
     "x": {"field": "stat", "type": "nominal", "scale": {"type": "band", "domain": ["IC50","IC80"], "range": [434, 570], "paddingInner": 0.353, "paddingOuter": 0.1765}, "axis": null},
     "xOffset": {"field": "group", "type": "nominal", "scale": {"domain": ["MM patients","PBMC healthy","CD138 healthy"], "paddingInner": 0, "paddingOuter": 0}},
     "y": {"field": "level2", "type": "quantitative", "scale": {"domain": [0, 45], "range": [457, 241], "nice": false, "zero": false}, "axis": null},
     "text": {"field": "label"}
   }},
  {"data": {"values": [{"label": "c"}]},
   "mark": {"type": "text", "fontSize": 19, "fontWeight": "bold", "baseline": "middle", "dx": -78},
   "encoding": {
     "x": {"datum": "IC50", "type": "nominal", "scale": {"type": "band", "domain": ["IC50","IC80"], "range": [434, 570], "paddingInner": 0.353, "paddingOuter": 0.1765}, "axis": null},
     "y": {"datum": 45.2, "type": "quantitative", "scale": {"domain": [0, 45], "range": [457, 241], "nice": false, "zero": false}, "axis": null},
     "text": {"field": "label"}
   }},

  {"data": {"values": [{"label": "d"}]},
   "mark": {"type": "point", "shape": "M-1,1.2L0,0L1,1.2", "size": 90, "filled": false, "strokeWidth": 1.3, "color": "#222222", "opacity": 1},
   "encoding": {
     "x": {"datum": 0, "type": "quantitative", "scale": {"domain": [0, 1], "range": [32, 743], "nice": false, "zero": false}, "axis": {"orient": "bottom", "offset": -27, "ticks": false, "labels": false, "title": "HIV-PI [µM]", "titleFontSize": 14, "titlePadding": 10, "titleX": 387, "domainWidth": 1.4}},
     "y": {"datum": 1, "type": "quantitative", "scale": {"domain": [0, 1], "range": [840, 513], "nice": false, "zero": false}, "axis": {"orient": "left", "offset": -32, "ticks": false, "labels": false, "title": "viability [% of control]", "titleFontSize": 13, "titlePadding": 13, "titleY": 690, "domainWidth": 1.4}}
   }},
  {"data": {"values": [{"label": "d"}]},
   "mark": {"type": "point", "shape": "M-1.2,-1L0,0L-1.2,1", "size": 90, "filled": false, "strokeWidth": 1.3, "color": "#222222", "opacity": 1},
   "encoding": {
     "x": {"datum": 1, "type": "quantitative", "scale": {"domain": [0, 1], "range": [32, 743], "nice": false, "zero": false}, "axis": null},
     "y": {"datum": 0, "type": "quantitative", "scale": {"domain": [0, 1], "range": [840, 513], "nice": false, "zero": false}, "axis": null}
   }},
  {"data": {"values": [{"label": "d"}]},
   "mark": {"type": "text", "fontSize": 19, "fontWeight": "bold", "baseline": "middle"},
   "encoding": {
     "text": {"field": "label"},
     "x": {"datum": -0.0366, "type": "quantitative", "scale": {"domain": [0, 1], "range": [32, 743], "nice": false, "zero": false}, "axis": null},
     "y": {"datum": 0.985, "type": "quantitative", "scale": {"domain": [0, 1], "range": [840, 513], "nice": false, "zero": false}, "axis": null}
   }},

  {"data": {"name": "d"}, "transform": [{"filter": "datum.panel === 'p1'"}],
   "mark": {"type": "line", "color": "#1e1e1e", "strokeWidth": 1.2},
   "encoding": {
     "x": {"field": "conc", "type": "quantitative", "scale": {"domain": [0, 40], "range": [76, 228], "nice": false, "zero": false}, "axis": {"orient": "bottom", "offset": -219, "values": [0, 10, 20, 30, 40], "title": null, "tickSize": 3, "labelPadding": 4}},
     "y": {"field": "v", "type": "quantitative", "scale": {"domain": [0, 120], "range": [648, 525], "nice": false, "zero": false}, "axis": {"orient": "left", "offset": -76, "values": [0, 20, 40, 60, 80, 100, 120], "title": null}},
     "detail": {"field": "drug", "type": "nominal"}}},
  {"data": {"name": "d"}, "transform": [{"filter": "datum.panel === 'p1'"}],
   "mark": {"type": "point", "filled": true, "size": 55, "color": "#111111", "opacity": 1},
   "encoding": {
     "x": {"field": "conc", "type": "quantitative", "scale": {"domain": [0, 40], "range": [76, 228], "nice": false, "zero": false}, "axis": null},
     "y": {"field": "v", "type": "quantitative", "scale": {"domain": [0, 120], "range": [648, 525], "nice": false, "zero": false}, "axis": null},
     "shape": {"field": "drug", "type": "nominal", "scale": {"domain": ["L","N","R","S"], "range": ["triangle-up","circle","square","diamond"]}, "legend": null}}},
  {"data": {"values": [{"t": "patient 1"}]},
   "mark": {"type": "text", "fontSize": 14, "baseline": "middle"},
   "encoding": {
     "text": {"field": "t"},
     "x": {"datum": 19, "type": "quantitative", "scale": {"domain": [0, 40], "range": [76, 228], "nice": false, "zero": false}, "axis": null},
     "y": {"datum": 128, "type": "quantitative", "scale": {"domain": [0, 120], "range": [648, 525], "nice": false, "zero": false}, "axis": null}
   }},

  {"data": {"name": "d"}, "transform": [{"filter": "datum.panel === 'p2'"}],
   "mark": {"type": "line", "color": "#1e1e1e", "strokeWidth": 1.2},
   "encoding": {
     "x": {"field": "conc", "type": "quantitative", "scale": {"domain": [0, 40], "range": [338, 497], "nice": false, "zero": false}, "axis": {"orient": "bottom", "offset": -220, "values": [0, 10, 20, 30, 40], "title": null, "tickSize": 3, "labelPadding": 4}},
     "y": {"field": "v", "type": "quantitative", "scale": {"domain": [0, 120], "range": [647, 538], "nice": false, "zero": false}, "axis": {"orient": "left", "offset": -338, "values": [0, 20, 40, 60, 80, 100, 120], "title": null}},
     "detail": {"field": "drug", "type": "nominal"}}},
  {"data": {"name": "d"}, "transform": [{"filter": "datum.panel === 'p2'"}],
   "mark": {"type": "point", "filled": true, "size": 55, "color": "#111111", "opacity": 1},
   "encoding": {
     "x": {"field": "conc", "type": "quantitative", "scale": {"domain": [0, 40], "range": [338, 497], "nice": false, "zero": false}, "axis": null},
     "y": {"field": "v", "type": "quantitative", "scale": {"domain": [0, 120], "range": [647, 538], "nice": false, "zero": false}, "axis": null},
     "shape": {"field": "drug", "type": "nominal", "scale": {"domain": ["L","N","R","S"], "range": ["triangle-up","circle","square","diamond"]}, "legend": null}}},
  {"data": {"values": [{"t": "patient 2"}]},
   "mark": {"type": "text", "fontSize": 14, "baseline": "middle"},
   "encoding": {
     "text": {"field": "t"},
     "x": {"datum": 19.5, "type": "quantitative", "scale": {"domain": [0, 40], "range": [338, 497], "nice": false, "zero": false}, "axis": null},
     "y": {"datum": 142, "type": "quantitative", "scale": {"domain": [0, 120], "range": [647, 538], "nice": false, "zero": false}, "axis": null}
   }},

  {"data": {"name": "d"}, "transform": [{"filter": "datum.panel === 'pb1'"}],
   "mark": {"type": "line", "color": "#1e1e1e", "strokeWidth": 1.2},
   "encoding": {
     "x": {"field": "conc", "type": "quantitative", "scale": {"domain": [0, 40], "range": [569, 726], "nice": false, "zero": false}, "axis": {"orient": "bottom", "offset": -219, "values": [0, 10, 20, 30, 40], "title": null, "tickSize": 3, "labelPadding": 4}},
     "y": {"field": "v", "type": "quantitative", "scale": {"domain": [0, 120], "range": [648, 537], "nice": false, "zero": false}, "axis": {"orient": "left", "offset": -569, "values": [0, 20, 40, 60, 80, 100, 120], "title": null}},
     "detail": {"field": "drug", "type": "nominal"}}},
  {"data": {"name": "d"}, "transform": [{"filter": "datum.panel === 'pb1'"}],
   "mark": {"type": "point", "filled": true, "size": 55, "color": "#111111", "opacity": 1},
   "encoding": {
     "x": {"field": "conc", "type": "quantitative", "scale": {"domain": [0, 40], "range": [569, 726], "nice": false, "zero": false}, "axis": null},
     "y": {"field": "v", "type": "quantitative", "scale": {"domain": [0, 120], "range": [648, 537], "nice": false, "zero": false}, "axis": null},
     "shape": {"field": "drug", "type": "nominal", "scale": {"domain": ["L","N","R","S"], "range": ["triangle-up","circle","square","diamond"]}, "legend": null}}},
  {"data": {"values": [{"t": "PBMC 1"}]},
   "mark": {"type": "text", "fontSize": 14, "baseline": "middle"},
   "encoding": {
     "text": {"field": "t"},
     "x": {"datum": 19.6, "type": "quantitative", "scale": {"domain": [0, 40], "range": [569, 726], "nice": false, "zero": false}, "axis": null},
     "y": {"datum": 143, "type": "quantitative", "scale": {"domain": [0, 120], "range": [648, 537], "nice": false, "zero": false}, "axis": null}
   }},

  {"data": {"name": "d"}, "transform": [{"filter": "datum.panel === 'p3'"}],
   "mark": {"type": "line", "color": "#1e1e1e", "strokeWidth": 1.2},
   "encoding": {
     "x": {"field": "conc", "type": "quantitative", "scale": {"domain": [0, 40], "range": [76, 228], "nice": false, "zero": false}, "axis": {"orient": "bottom", "offset": -57, "values": [0, 20, 40], "title": null, "tickSize": 3, "labelPadding": 4}},
     "y": {"field": "v", "type": "quantitative", "scale": {"domain": [0, 120], "range": [810, 692], "nice": false, "zero": false}, "axis": {"orient": "left", "offset": -76, "values": [0, 20, 40, 60, 80, 100, 120], "title": null}},
     "detail": {"field": "drug", "type": "nominal"}}},
  {"data": {"name": "d"}, "transform": [{"filter": "datum.panel === 'p3'"}],
   "mark": {"type": "point", "filled": true, "size": 55, "color": "#111111", "opacity": 1},
   "encoding": {
     "x": {"field": "conc", "type": "quantitative", "scale": {"domain": [0, 40], "range": [76, 228], "nice": false, "zero": false}, "axis": null},
     "y": {"field": "v", "type": "quantitative", "scale": {"domain": [0, 120], "range": [810, 692], "nice": false, "zero": false}, "axis": null},
     "shape": {"field": "drug", "type": "nominal", "scale": {"domain": ["L","N","R","S"], "range": ["triangle-up","circle","square","diamond"]}, "legend": null}}},
  {"data": {"values": [{"t": "patient 3"}]},
   "mark": {"type": "text", "fontSize": 14, "baseline": "middle"},
   "encoding": {
     "text": {"field": "t"},
     "x": {"datum": 19, "type": "quantitative", "scale": {"domain": [0, 40], "range": [76, 228], "nice": false, "zero": false}, "axis": null},
     "y": {"datum": 121, "type": "quantitative", "scale": {"domain": [0, 120], "range": [810, 692], "nice": false, "zero": false}, "axis": null}
   }},

  {"data": {"name": "d"}, "transform": [{"filter": "datum.panel === 'p4'"}],
   "mark": {"type": "line", "color": "#1e1e1e", "strokeWidth": 1.2},
   "encoding": {
     "x": {"field": "conc", "type": "quantitative", "scale": {"domain": [0, 40], "range": [338, 497], "nice": false, "zero": false}, "axis": {"orient": "bottom", "offset": -58, "values": [0, 10, 20, 30, 40], "title": null, "tickSize": 3, "labelPadding": 4}},
     "y": {"field": "v", "type": "quantitative", "scale": {"domain": [0, 120], "range": [809, 700], "nice": false, "zero": false}, "axis": {"orient": "left", "offset": -338, "values": [0, 20, 40, 60, 80, 100, 120], "title": null}},
     "detail": {"field": "drug", "type": "nominal"}}},
  {"data": {"name": "d"}, "transform": [{"filter": "datum.panel === 'p4'"}],
   "mark": {"type": "point", "filled": true, "size": 55, "color": "#111111", "opacity": 1},
   "encoding": {
     "x": {"field": "conc", "type": "quantitative", "scale": {"domain": [0, 40], "range": [338, 497], "nice": false, "zero": false}, "axis": null},
     "y": {"field": "v", "type": "quantitative", "scale": {"domain": [0, 120], "range": [809, 700], "nice": false, "zero": false}, "axis": null},
     "shape": {"field": "drug", "type": "nominal", "scale": {"domain": ["L","N","R","S"], "range": ["triangle-up","circle","square","diamond"]}, "legend": null}}},
  {"data": {"values": [{"t": "patient 4"}]},
   "mark": {"type": "text", "fontSize": 14, "baseline": "middle"},
   "encoding": {
     "text": {"field": "t"},
     "x": {"datum": 19, "type": "quantitative", "scale": {"domain": [0, 40], "range": [338, 497], "nice": false, "zero": false}, "axis": null},
     "y": {"datum": 128, "type": "quantitative", "scale": {"domain": [0, 120], "range": [809, 700], "nice": false, "zero": false}, "axis": null}
   }},

  {"data": {"name": "d"}, "transform": [{"filter": "datum.panel === 'pb2'"}],
   "mark": {"type": "line", "color": "#1e1e1e", "strokeWidth": 1.2},
   "encoding": {
     "x": {"field": "conc", "type": "quantitative", "scale": {"domain": [0, 40], "range": [569, 726], "nice": false, "zero": false}, "axis": {"orient": "bottom", "offset": -58, "values": [0, 10, 20, 30, 40], "title": null, "tickSize": 3, "labelPadding": 4}},
     "y": {"field": "v", "type": "quantitative", "scale": {"domain": [0, 120], "range": [809, 699], "nice": false, "zero": false}, "axis": {"orient": "left", "offset": -569, "values": [0, 20, 40, 60, 80, 100, 120], "title": null}},
     "detail": {"field": "drug", "type": "nominal"}}},
  {"data": {"name": "d"}, "transform": [{"filter": "datum.panel === 'pb2'"}],
   "mark": {"type": "point", "filled": true, "size": 55, "color": "#111111", "opacity": 1},
   "encoding": {
     "x": {"field": "conc", "type": "quantitative", "scale": {"domain": [0, 40], "range": [569, 726], "nice": false, "zero": false}, "axis": null},
     "y": {"field": "v", "type": "quantitative", "scale": {"domain": [0, 120], "range": [809, 699], "nice": false, "zero": false}, "axis": null},
     "shape": {"field": "drug", "type": "nominal", "scale": {"domain": ["L","N","R","S"], "range": ["triangle-up","circle","square","diamond"]}, "legend": null}}},
  {"data": {"values": [{"t": "PBMC 2"}]},
   "mark": {"type": "text", "fontSize": 14, "baseline": "middle"},
   "encoding": {
     "text": {"field": "t"},
     "x": {"datum": 19.6, "type": "quantitative", "scale": {"domain": [0, 40], "range": [569, 726], "nice": false, "zero": false}, "axis": null},
     "y": {"datum": 129, "type": "quantitative", "scale": {"domain": [0, 120], "range": [809, 699], "nice": false, "zero": false}, "axis": null}
   }},

  {"data": {"name": "lega2"},
   "mark": {"type": "rule", "color": "#222222", "strokeWidth": 1.2},
   "encoding": {
     "x": {"datum": 0, "type": "quantitative", "scale": {"domain": [0, 1], "range": [697, 723], "nice": false, "zero": false}, "axis": null},
     "x2": {"datum": 1},
     "y": {"field": "drug", "type": "nominal", "scale": {"type": "point", "domain": ["L","N","R","S"], "range": [521, 570], "padding": 0}, "axis": null}
   }},
  {"data": {"name": "lega2"},
   "mark": {"type": "point", "filled": true, "size": 50, "color": "#111111", "opacity": 1},
   "encoding": {
     "x": {"datum": 0.5, "type": "quantitative", "scale": {"domain": [0, 1], "range": [697, 723], "nice": false, "zero": false}, "axis": null},
     "y": {"field": "drug", "type": "nominal", "scale": {"type": "point", "domain": ["L","N","R","S"], "range": [521, 570], "padding": 0}, "axis": null},
     "shape": {"field": "drug", "type": "nominal", "scale": {"domain": ["L","N","R","S"], "range": ["triangle-up","circle","square","diamond"]}, "legend": null}
   }},
  {"data": {"name": "lega2"},
   "mark": {"type": "text", "align": "left", "baseline": "middle", "fontSize": 13},
   "encoding": {
     "x": {"datum": 1.2, "type": "quantitative", "scale": {"domain": [0, 1], "range": [697, 723], "nice": false, "zero": false}, "axis": null},
     "y": {"field": "drug", "type": "nominal", "scale": {"type": "point", "domain": ["L","N","R","S"], "range": [521, 570], "padding": 0}, "axis": null},
     "text": {"field": "drug"}
   }}
],
"resolve": {
  "scale": {"x": "independent", "y": "independent", "xOffset": "independent", "color": "independent", "fill": "independent", "shape": "independent", "stroke": "independent"},
  "axis": {"x": "independent", "y": "independent"},
  "legend": {"color": "independent", "fill": "independent", "shape": "independent"}
}
}
